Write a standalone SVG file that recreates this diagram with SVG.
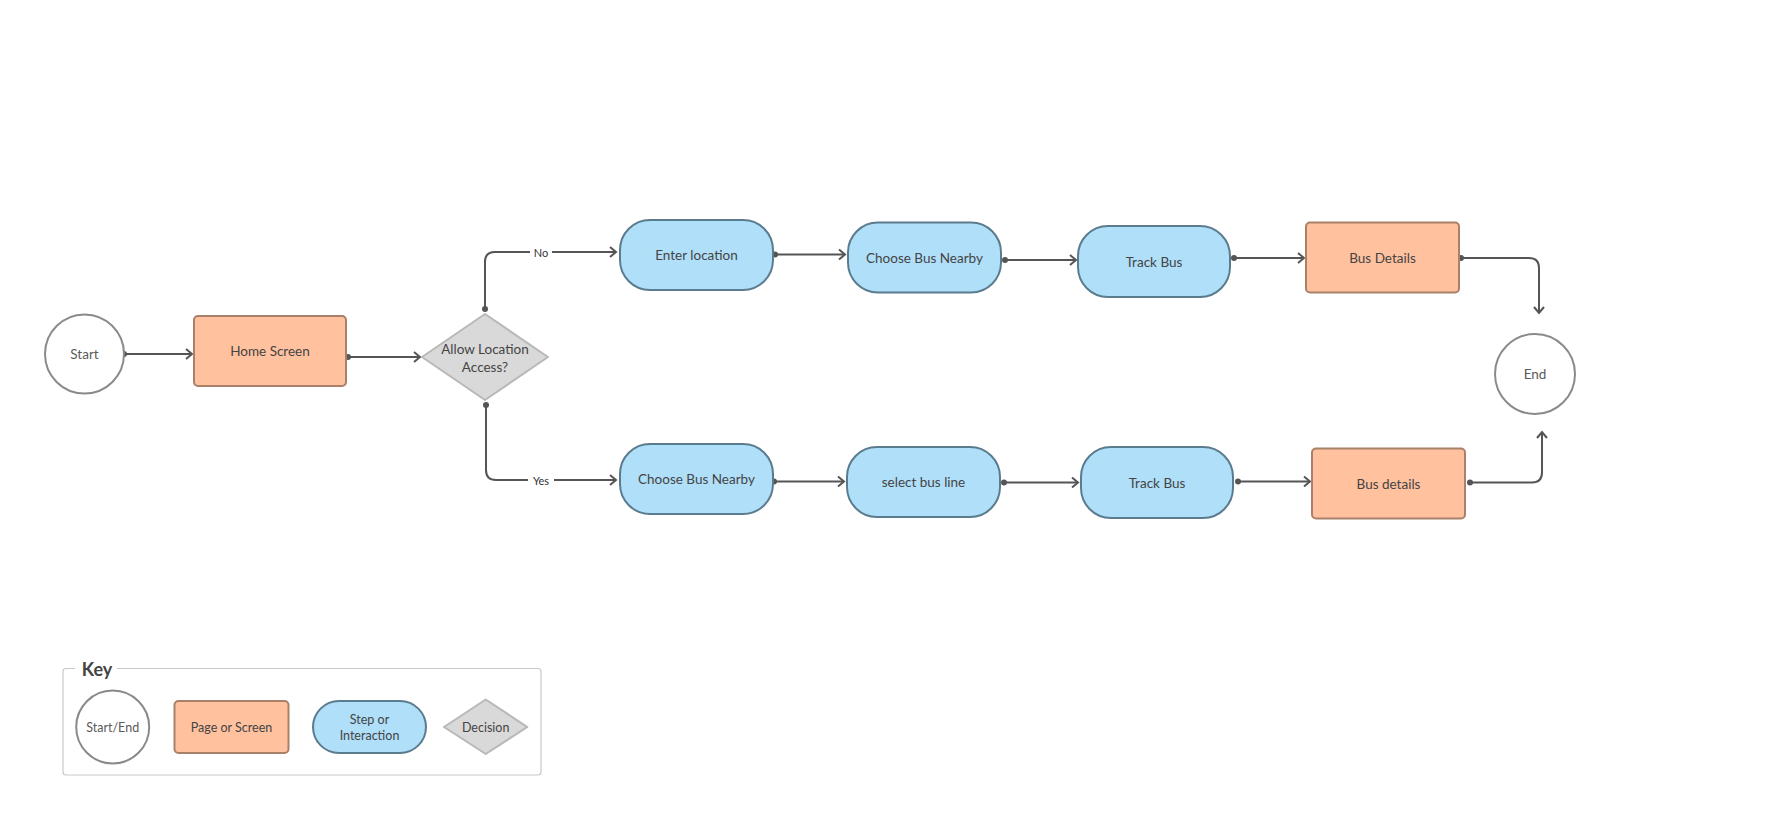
<svg xmlns="http://www.w3.org/2000/svg" width="1789" height="832" viewBox="0 0 1789 832">
<style>
text{font-family:Lato,"Noto Sans","Liberation Sans",sans-serif;fill:#444;text-anchor:middle;dominant-baseline:central}
.t{font-size:13.5px}
.k{font-size:12.5px}
.lbl{font-size:11px;fill:#333}
.st{fill:#5a5a5a}
.term{fill:#fff;stroke:#8a8a8a;stroke-width:2}
.page{fill:#ffc19e;stroke:#a98069;stroke-width:2}
.step{fill:#b0dff9;stroke:#5b7b8e;stroke-width:2}
.dec{fill:#d9d9d9;stroke:#b8b8b8;stroke-width:2}
.e{fill:none;stroke:#555;stroke-width:2;marker-start:url(#dot);marker-end:url(#arr)}
</style>
<defs>
<marker id="arr" markerUnits="userSpaceOnUse" markerWidth="12" markerHeight="14" refX="9" refY="6" orient="auto" viewBox="0 0 12 12">
<path d="M3,1 L9,6 L3,11" fill="none" stroke="#555" stroke-width="2"/>
</marker>
<marker id="dot" markerUnits="userSpaceOnUse" markerWidth="8" markerHeight="8" refX="4" refY="4" viewBox="0 0 8 8">
<circle cx="4" cy="4" r="3" fill="#555"/>
</marker>
</defs>
<rect width="1789" height="832" fill="#fff"/>
<g id="connectors">
<path class="e" d="M124,354 L192,354"/>
<path class="e" d="M348,357 L420,357"/>
<path class="e" d="M485,309 L485,262 Q485,252 495,252 L616,252"/>
<path class="e" d="M486,405 L486,470 Q486,480 496,480 L616,480"/>
<path class="e" d="M775,254.5 L845,254.5"/>
<path class="e" d="M1005,260 L1076,260"/>
<path class="e" d="M1234,258 L1304,258"/>
<path class="e" d="M1461,258 L1529,258 Q1539,258 1539,268 L1539,313"/>
<path class="e" d="M774,481.5 L844,481.5"/>
<path class="e" d="M1004,482.6 L1078,482.6"/>
<path class="e" d="M1238,481.5 L1310,481.5"/>
<path class="e" d="M1470,482.6 L1532,482.6 Q1542,482.6 1542,472.6 L1542,432"/>
<rect x="530" y="244" width="22" height="16" fill="#fff"/>
<text class="lbl" x="541" y="252">No</text>
<rect x="528" y="472" width="26" height="16" fill="#fff"/>
<text class="lbl" x="541" y="480">Yes</text>
</g>
<g id="start"><circle class="term" cx="84.5" cy="354" r="39.5"/><text class="t st" x="84.5" y="354">Start</text></g>
<g id="home"><rect class="page" x="194" y="316" width="152" height="70" rx="4"/><text class="t" x="270" y="351">Home Screen</text></g>
<g id="decision"><path class="dec" d="M485,314 L548,357 L485,400 L422,357 Z" stroke-linejoin="round"/><text class="t" x="485" y="349">Allow Location</text><text class="t" x="485" y="367">Access?</text></g>
<g id="enter"><rect class="step" x="620" y="220" width="153" height="70" rx="30"/><text class="t" x="696.5" y="255">Enter location</text></g>
<g id="choose1"><rect class="step" x="848" y="222.5" width="153" height="70" rx="30"/><text class="t" x="924.5" y="257.5">Choose Bus Nearby</text></g>
<g id="track1"><rect class="step" x="1078" y="226" width="152" height="71" rx="30"/><text class="t" x="1154" y="261.5">Track Bus</text></g>
<g id="details1"><rect class="page" x="1306" y="222.5" width="153" height="70" rx="4"/><text class="t" x="1382.5" y="257.5">Bus Details</text></g>
<g id="end"><circle class="term" cx="1535" cy="374" r="40"/><text class="t st" x="1535" y="374">End</text></g>
<g id="choose2"><rect class="step" x="620" y="444" width="153" height="70" rx="30"/><text class="t" x="696.5" y="479">Choose Bus Nearby</text></g>
<g id="select"><rect class="step" x="847" y="447" width="153" height="70" rx="30"/><text class="t" x="923.5" y="482">select bus line</text></g>
<g id="track2"><rect class="step" x="1081" y="447" width="152" height="71" rx="30"/><text class="t" x="1157" y="482.5">Track Bus</text></g>
<g id="details2"><rect class="page" x="1312" y="448.5" width="153" height="70" rx="4"/><text class="t" x="1388.5" y="483.5">Bus details</text></g>
<g id="key">
<path d="M75,668.5 L66,668.5 Q63,668.5 63,671.5 L63,772 Q63,775 66,775 L538,775 Q541,775 541,772 L541,671.5 Q541,668.5 538,668.5 L117,668.5" fill="none" stroke="#c8c8c8" stroke-width="1.2"/>
<text x="97" y="669" style="font-size:18px;font-weight:bold;fill:#444">Key</text>
<g id="key-term"><circle class="term" cx="112.7" cy="727" r="36.5"/><text class="k st" x="112.7" y="727">Start/End</text></g>
<g id="key-page"><rect class="page" x="174.5" y="701" width="114" height="52" rx="4"/><text class="k" x="231.5" y="727">Page or Screen</text></g>
<g id="key-step"><rect class="step" x="313" y="701" width="113" height="52" rx="26"/><text class="k" x="369.5" y="719">Step or</text><text class="k" x="369.5" y="735">Interaction</text></g>
<g id="key-dec"><path class="dec" d="M485.7,699.5 L527.3,727 L485.7,754 L444,727 Z" stroke-linejoin="round"/><text class="k" x="485.7" y="727">Decision</text></g>
</g>
</svg>
